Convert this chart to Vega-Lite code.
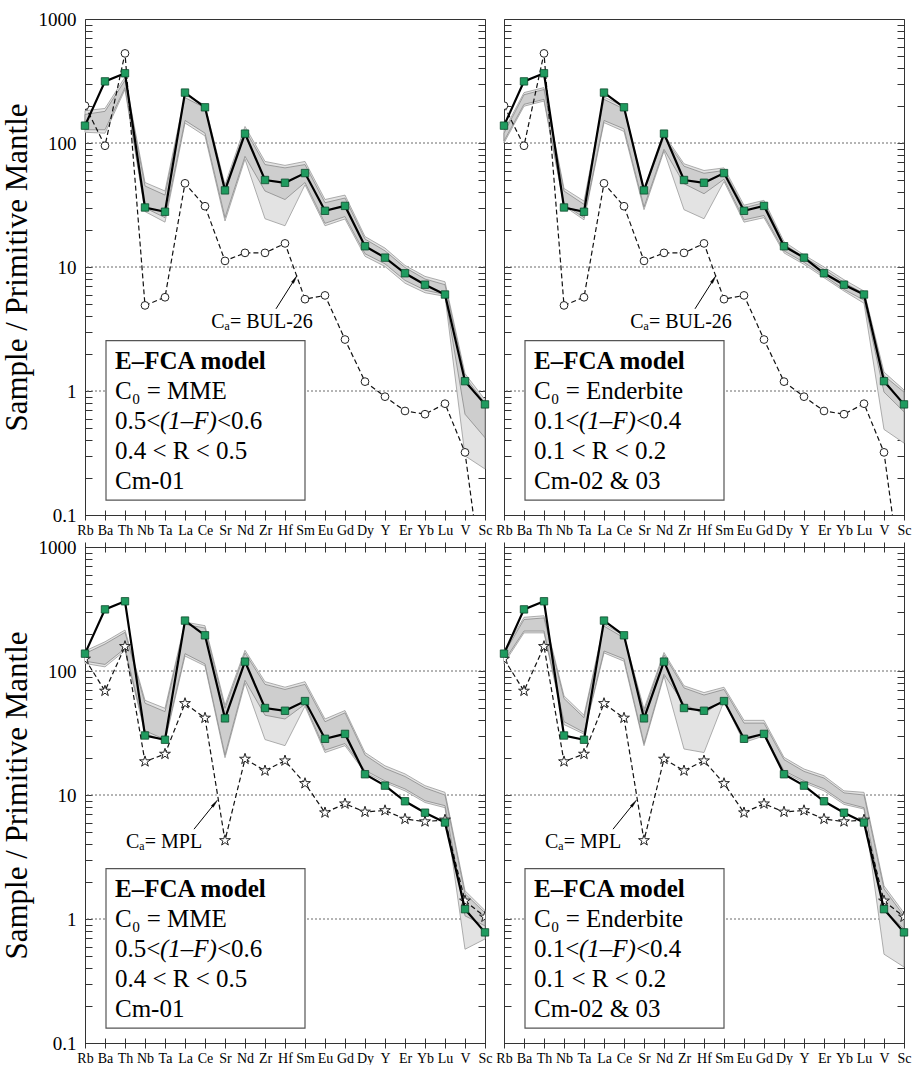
{
  "$schema": "https://vega.github.io/schema/vega-lite/v6.json",
  "padding": {"left": 0, "top": 9, "right": 5, "bottom": 0},
  "config": {
    "view": {"stroke": "#333", "strokeWidth": 1},
    "font": "Liberation Serif",
    "text": {"font": "Liberation Serif", "color": "#000"}
  },
  "datasets": {
    "sample": [
      {"el":"Rb","i":0,"v":138},{"el":"Ba","i":1,"v":314},{"el":"Th","i":2,"v":365},{"el":"Nb","i":3,"v":30.2},
      {"el":"Ta","i":4,"v":27.9},{"el":"La","i":5,"v":255},{"el":"Ce","i":6,"v":194},{"el":"Sr","i":7,"v":41.5},
      {"el":"Nd","i":8,"v":119},{"el":"Zr","i":9,"v":50.3},{"el":"Hf","i":10,"v":47.8},{"el":"Sm","i":11,"v":57.2},
      {"el":"Eu","i":12,"v":28.4},{"el":"Gd","i":13,"v":31.1},{"el":"Dy","i":14,"v":14.7},{"el":"Y","i":15,"v":11.9},
      {"el":"Er","i":16,"v":8.9},{"el":"Yb","i":17,"v":7.2},{"el":"Lu","i":18,"v":6.0},{"el":"V","i":19,"v":1.2},
      {"el":"Sc","i":20,"v":0.78}
    ],
    "bul": [
      {"el":"Rb","i":0,"v":200},{"el":"Ba","i":1,"v":95},{"el":"Th","i":2,"v":528},{"el":"Nb","i":3,"v":4.9},
      {"el":"Ta","i":4,"v":5.7},{"el":"La","i":5,"v":47.3},{"el":"Ce","i":6,"v":30.9},{"el":"Sr","i":7,"v":11.2},
      {"el":"Nd","i":8,"v":13.0},{"el":"Zr","i":9,"v":13.0},{"el":"Hf","i":10,"v":15.5},{"el":"Sm","i":11,"v":5.5},
      {"el":"Eu","i":12,"v":5.9},{"el":"Gd","i":13,"v":2.6},{"el":"Dy","i":14,"v":1.19},{"el":"Y","i":15,"v":0.9},
      {"el":"Er","i":16,"v":0.69},{"el":"Yb","i":17,"v":0.65},{"el":"Lu","i":18,"v":0.79},{"el":"V","i":19,"v":0.32},
      {"el":"Sc","i":20,"v":0.02}
    ],
    "mpl": [
      {"el":"Rb","i":0,"v":125},{"el":"Ba","i":1,"v":69},{"el":"Th","i":2,"v":158},{"el":"Nb","i":3,"v":18.6},
      {"el":"Ta","i":4,"v":21.4},{"el":"La","i":5,"v":54.8},{"el":"Ce","i":6,"v":41.8},{"el":"Sr","i":7,"v":4.3},
      {"el":"Nd","i":8,"v":19.5},{"el":"Zr","i":9,"v":15.7},{"el":"Hf","i":10,"v":18.9},{"el":"Sm","i":11,"v":12.4},
      {"el":"Eu","i":12,"v":7.2},{"el":"Gd","i":13,"v":8.5},{"el":"Dy","i":14,"v":7.3},{"el":"Y","i":15,"v":7.5},
      {"el":"Er","i":16,"v":6.4},{"el":"Yb","i":17,"v":6.1},{"el":"Lu","i":18,"v":6.3},{"el":"V","i":19,"v":1.4},
      {"el":"Sc","i":20,"v":1.04}
    ],
    "bandTL": [
      {"el":"Rb","i":0,"hi":170,"lo":128,"ohi":182,"olo":122},{"el":"Ba","i":1,"hi":180,"lo":128,"ohi":190,"olo":120},
      {"el":"Th","i":2,"hi":320,"lo":280,"ohi":340,"olo":270},{"el":"Nb","i":3,"hi":45,"lo":30,"ohi":48,"olo":28},
      {"el":"Ta","i":4,"hi":38,"lo":25,"ohi":41,"olo":23},{"el":"La","i":5,"hi":232,"lo":152,"ohi":245,"olo":145},
      {"el":"Ce","i":6,"hi":192,"lo":120,"ohi":202,"olo":114},{"el":"Sr","i":7,"hi":43,"lo":25,"ohi":46,"olo":23.5},
      {"el":"Nd","i":8,"hi":128,"lo":78,"ohi":136,"olo":74},{"el":"Zr","i":9,"hi":67,"lo":41,"ohi":71,"olo":24.5},
      {"el":"Hf","i":10,"hi":63,"lo":35,"ohi":66,"olo":21.5},{"el":"Sm","i":11,"hi":67,"lo":48,"ohi":71,"olo":46},
      {"el":"Eu","i":12,"hi":33,"lo":22.5,"ohi":35,"olo":21.5},{"el":"Gd","i":13,"hi":36,"lo":25.5,"ohi":38,"olo":24.4},
      {"el":"Dy","i":14,"hi":16.8,"lo":12.8,"ohi":17.6,"olo":12.2},{"el":"Y","i":15,"hi":13.5,"lo":10.6,"ohi":14.2,"olo":10.1},
      {"el":"Er","i":16,"hi":9.9,"lo":7.8,"ohi":10.3,"olo":7.4},{"el":"Yb","i":17,"hi":8.0,"lo":6.5,"ohi":8.4,"olo":6.2},
      {"el":"Lu","i":18,"hi":7.2,"lo":6.0,"ohi":7.6,"olo":5.8},{"el":"V","i":19,"hi":1.3,"lo":0.65,"ohi":1.38,"olo":0.3},
      {"el":"Sc","i":20,"hi":0.8,"lo":0.42,"ohi":0.85,"olo":0.235}
    ],
    "bandTR": [
      {"el":"Rb","i":0,"hi":120,"lo":104,"ohi":126,"olo":100},{"el":"Ba","i":1,"hi":245,"lo":205,"ohi":255,"olo":198},
      {"el":"Th","i":2,"hi":270,"lo":225,"ohi":280,"olo":218},{"el":"Nb","i":3,"hi":41,"lo":32,"ohi":43,"olo":31},
      {"el":"Ta","i":4,"hi":32,"lo":25,"ohi":34,"olo":24},{"el":"La","i":5,"hi":225,"lo":152,"ohi":235,"olo":146},
      {"el":"Ce","i":6,"hi":188,"lo":130,"ohi":196,"olo":124},{"el":"Sr","i":7,"hi":41,"lo":30.5,"ohi":43,"olo":29},
      {"el":"Nd","i":8,"hi":112,"lo":89,"ohi":117,"olo":86},{"el":"Zr","i":9,"hi":65,"lo":47,"ohi":68,"olo":29},
      {"el":"Hf","i":10,"hi":57,"lo":39,"ohi":60,"olo":24.5},{"el":"Sm","i":11,"hi":60,"lo":51,"ohi":63,"olo":49},
      {"el":"Eu","i":12,"hi":30,"lo":24,"ohi":31.5,"olo":23},{"el":"Gd","i":13,"hi":33,"lo":26,"ohi":34.5,"olo":25},
      {"el":"Dy","i":14,"hi":15.3,"lo":13.5,"ohi":16,"olo":13},{"el":"Y","i":15,"hi":12,"lo":10.9,"ohi":12.5,"olo":10.5},
      {"el":"Er","i":16,"hi":9.6,"lo":8.5,"ohi":10,"olo":8.2},{"el":"Yb","i":17,"hi":7.5,"lo":6.6,"ohi":7.9,"olo":6.4},
      {"el":"Lu","i":18,"hi":6.1,"lo":5.4,"ohi":6.4,"olo":5.1},{"el":"V","i":19,"hi":1.33,"lo":0.98,"ohi":1.42,"olo":0.49},
      {"el":"Sc","i":20,"hi":0.98,"lo":0.68,"ohi":1.02,"olo":0.38}
    ],
    "bandBL": [
      {"el":"Rb","i":0,"hi":138,"lo":120,"ohi":145,"olo":115},{"el":"Ba","i":1,"hi":165,"lo":113,"ohi":172,"olo":108},
      {"el":"Th","i":2,"hi":205,"lo":152,"ohi":214,"olo":146},{"el":"Nb","i":3,"hi":55,"lo":33,"ohi":58,"olo":31.5},
      {"el":"Ta","i":4,"hi":47,"lo":28,"ohi":50,"olo":27},{"el":"La","i":5,"hi":238,"lo":138,"ohi":248,"olo":132},
      {"el":"Ce","i":6,"hi":222,"lo":114,"ohi":232,"olo":110},{"el":"Sr","i":7,"hi":50,"lo":21,"ohi":53,"olo":20},
      {"el":"Nd","i":8,"hi":140,"lo":84,"ohi":147,"olo":80},{"el":"Zr","i":9,"hi":78,"lo":44,"ohi":82,"olo":28},
      {"el":"Hf","i":10,"hi":71,"lo":41,"ohi":74,"olo":25},{"el":"Sm","i":11,"hi":78,"lo":54,"ohi":82,"olo":52},
      {"el":"Eu","i":12,"hi":39,"lo":23,"ohi":41,"olo":22},{"el":"Gd","i":13,"hi":46,"lo":26,"ohi":48,"olo":25},
      {"el":"Dy","i":14,"hi":21,"lo":15.8,"ohi":22,"olo":15.2},{"el":"Y","i":15,"hi":16.4,"lo":13,"ohi":17.2,"olo":12.6},
      {"el":"Er","i":16,"hi":14.1,"lo":11.2,"ohi":14.8,"olo":10.8},{"el":"Yb","i":17,"hi":11.4,"lo":9.0,"ohi":11.9,"olo":8.7},
      {"el":"Lu","i":18,"hi":10.0,"lo":8.2,"ohi":10.5,"olo":7.9},{"el":"V","i":19,"hi":1.6,"lo":1.06,"ohi":1.69,"olo":0.57},
      {"el":"Sc","i":20,"hi":1.12,"lo":0.88,"ohi":1.17,"olo":0.69}
    ],
    "bandBR": [
      {"el":"Rb","i":0,"hi":138,"lo":120,"ohi":145,"olo":115},{"el":"Ba","i":1,"hi":260,"lo":210,"ohi":271,"olo":203},
      {"el":"Th","i":2,"hi":268,"lo":210,"ohi":279,"olo":203},{"el":"Nb","i":3,"hi":60,"lo":39,"ohi":63,"olo":37},
      {"el":"Ta","i":4,"hi":42,"lo":32,"ohi":44,"olo":31},{"el":"La","i":5,"hi":230,"lo":145,"ohi":239,"olo":140},
      {"el":"Ce","i":6,"hi":185,"lo":125,"ohi":193,"olo":120},{"el":"Sr","i":7,"hi":47,"lo":26,"ohi":49.4,"olo":25},
      {"el":"Nd","i":8,"hi":135,"lo":94,"ohi":141,"olo":91},{"el":"Zr","i":9,"hi":73,"lo":54,"ohi":76,"olo":23.5},
      {"el":"Hf","i":10,"hi":64,"lo":45,"ohi":67,"olo":22},{"el":"Sm","i":11,"hi":71,"lo":59,"ohi":74,"olo":57},
      {"el":"Eu","i":12,"hi":38,"lo":27.5,"ohi":40,"olo":26.5},{"el":"Gd","i":13,"hi":38,"lo":31,"ohi":40,"olo":30},
      {"el":"Dy","i":14,"hi":19.3,"lo":15.7,"ohi":20.1,"olo":15.2},{"el":"Y","i":15,"hi":15.5,"lo":13,"ohi":16.2,"olo":12.6},
      {"el":"Er","i":16,"hi":13.7,"lo":11.2,"ohi":14.3,"olo":10.8},{"el":"Yb","i":17,"hi":10.4,"lo":8.7,"ohi":10.8,"olo":8.4},
      {"el":"Lu","i":18,"hi":10.0,"lo":7.9,"ohi":10.5,"olo":7.7},{"el":"V","i":19,"hi":1.75,"lo":1.2,"ohi":1.85,"olo":0.52},
      {"el":"Sc","i":20,"hi":1.06,"lo":0.83,"ohi":1.12,"olo":0.41}
    ],
    "grid": [{"v":1},{"v":10},{"v":100}],
    "box": [{"i":1.05,"i2":11.0,"v":0.132,"v2":2.55}],
    "head": [{"i":1.5,"v":1.746,"t":"E–FCA model"}],
    "lines": [
      {"g":"MME","i":1.5,"v":1.0,"t":"C₀  = MME"},
      {"g":"MME","i":1.5,"v":0.328,"t":"0.4 < R < 0.5"},
      {"g":"MME","i":1.5,"v":0.188,"t":"Cm-01"},
      {"g":"End","i":1.5,"v":1.0,"t":"C₀  = Enderbite"},
      {"g":"End","i":1.5,"v":0.328,"t":"0.1 < R < 0.2"},
      {"g":"End","i":1.5,"v":0.188,"t":"Cm-02 & 03"}
    ],
    "frac": [
      {"g":"MME","i":1.5,"v":0.573,"pre":"0.5<","mid":"(1–F)","post":"<0.6"},
      {"g":"End","i":1.5,"v":0.573,"pre":"0.1<","mid":"(1–F)","post":"<0.4"}
    ],
    "calab": [
      {"g":"T","i":8.85,"v":3.6,"t":"Cₐ= BUL-26"},
      {"g":"B","i":3.95,"v":4.18,"t":"Cₐ= MPL"}
    ],
    "arrow": [
      {"g":"T","i":9.55,"v":4.6,"i2":10.45,"v2":7.8},
      {"g":"B","i":5.45,"v":5.3,"i2":6.45,"v2":8.4}
    ]
  },
  "concat": [
    {
      "width": 400, "height": 496,
      "resolve": {"axis": {"x": "independent", "y": "independent"}},
      "layer": [
        {"data":{"name":"grid"},"mark":{"type":"rule","stroke":"#6b6b6b","strokeDash":[2,2],"strokeWidth":1},
         "encoding":{"y":{"field":"v","type":"quantitative","scale":{"type":"log","domain":[0.1,1000]},
           "axis":{"orient":"right","values":[0.1,0.2,0.3,0.4,0.5,0.6,0.7,0.8,0.9,1,2,3,4,5,6,7,8,9,10,20,30,40,50,60,70,80,90,100,200,300,400,500,600,700,800,900,1000],"labels":false,"domain":false,"grid":false,"title":null,"tickColor":"#333","tickWidth":1,"tickSize":7,"offset":-7,"minExtent":0,"maxExtent":0}}}},
        {"data":{"name":"bandTL"},"mark":{"type":"area","fill":"#e3e3e3","stroke":"#9a9a9a","strokeWidth":0.8},
         "encoding":{
           "x":{"field":"i","type":"quantitative","scale":{"domain":[0,20],"nice":false,"zero":false},
             "axis":{"orient":"bottom","values":[0,1,2,3,4,5,6,7,8,9,10,11,12,13,14,15,16,17,18,19,20],"labelExpr":"['Rb','Ba','Th','Nb','Ta','La','Ce','Sr','Nd','Zr','Hf','Sm','Eu','Gd','Dy','Y','Er','Yb','Lu','V','Sc'][datum.value]","labelFont":"Liberation Serif","labelFontSize":14,"labelColor":"#000","labelPadding":3,"labelFlush":false,"labelOverlap":false,"tickSize":10,"offset":-5,"tickColor":"#333","domain":false,"grid":false,"title":null}},
           "y":{"field":"olo","type":"quantitative","scale":{"type":"log","domain":[0.1,1000]},
             "axis":{"orient":"left","values":[0.1,0.2,0.3,0.4,0.5,0.6,0.7,0.8,0.9,1,2,3,4,5,6,7,8,9,10,20,30,40,50,60,70,80,90,100,200,300,400,500,600,700,800,900,1000],"labelExpr":"datum.value == 1000 ? '1000' : datum.value == 100 ? '100' : datum.value == 10 ? '10' : datum.value == 1 ? '1' : abs(datum.value - 0.1) < 1e-9 ? '0.1' : ''","labelOverlap":false,"labelFont":"Liberation Serif","labelFontSize":19,"labelColor":"#000","labelPadding":9,"domain":false,"grid":false,"tickColor":"#333","tickWidth":1,"tickSize":7,"offset":-7,"title":"Sample / Primitive Mantle","titleFont":"Liberation Serif","titleFontSize":31,"titleFontWeight":"normal","titleColor":"#000","titlePadding":5}},
           "y2":{"field":"ohi"}}},
        {"data":{"name":"bandTL"},"mark":{"type":"area","fill":"#cecece","stroke":"#8a8a8a","strokeWidth":0.8},
         "encoding":{"x":{"field":"i","type":"quantitative","scale":{"domain":[0,20],"nice":false,"zero":false},"axis":null},
           "y":{"field":"lo","type":"quantitative","scale":{"type":"log","domain":[0.1,1000]},"axis":null},"y2":{"field":"hi"}}},
        {"data":{"name":"bul"},"mark":{"type":"line","stroke":"#111","strokeWidth":1.2,"strokeDash":[5,3],"clip":true},
         "encoding":{"x":{"field":"i","type":"quantitative","scale":{"domain":[0,20],"nice":false,"zero":false},"axis":null},
           "y":{"field":"v","type":"quantitative","scale":{"type":"log","domain":[0.1,1000]},"axis":null}}},
        {"data":{"name":"bul"},"mark":{"type":"point","shape":"circle","filled":true,"fill":"white","stroke":"#222","strokeWidth":1,"size":60,"opacity":1,"clip":true},
         "encoding":{"x":{"field":"i","type":"quantitative","scale":{"domain":[0,20],"nice":false,"zero":false},"axis":null},
           "y":{"field":"v","type":"quantitative","scale":{"type":"log","domain":[0.1,1000]},"axis":null}}},
        {"data":{"name":"sample"},"mark":{"type":"line","stroke":"#000","strokeWidth":2.2},
         "encoding":{"x":{"field":"i","type":"quantitative","scale":{"domain":[0,20],"nice":false,"zero":false},"axis":null},
           "y":{"field":"v","type":"quantitative","scale":{"type":"log","domain":[0.1,1000]},"axis":null}}},
        {"data":{"name":"sample"},"mark":{"type":"point","shape":"square","filled":true,"fill":"#1f9b5f","stroke":"#0d4a2c","strokeWidth":0.8,"size":55,"opacity":1},
         "encoding":{"x":{"field":"i","type":"quantitative","scale":{"domain":[0,20],"nice":false,"zero":false},"axis":null},
           "y":{"field":"v","type":"quantitative","scale":{"type":"log","domain":[0.1,1000]},"axis":null}}},
        {"data":{"name":"box"},"mark":{"type":"rect","fill":"white","stroke":"#555","strokeWidth":1.2},
         "encoding":{"x":{"field":"i","type":"quantitative","scale":{"domain":[0,20],"nice":false,"zero":false},"axis":null},"x2":{"field":"i2"},
           "y":{"field":"v","type":"quantitative","scale":{"type":"log","domain":[0.1,1000]},"axis":null},"y2":{"field":"v2"}}},
        {"data":{"name":"head"},"mark":{"type":"text","align":"left","baseline":"middle","font":"Liberation Serif","fontSize":25,"fontWeight":"bold","color":"#000"},
         "encoding":{"x":{"field":"i","type":"quantitative","scale":{"domain":[0,20],"nice":false,"zero":false},"axis":null},
           "y":{"field":"v","type":"quantitative","scale":{"type":"log","domain":[0.1,1000]},"axis":null},"text":{"field":"t"}}},
        {"data":{"name":"lines"},"transform":[{"filter":"datum.g == 'MME'"}],"mark":{"type":"text","align":"left","baseline":"middle","font":"Liberation Serif","fontSize":25,"color":"#000"},
         "encoding":{"x":{"field":"i","type":"quantitative","scale":{"domain":[0,20],"nice":false,"zero":false},"axis":null},
           "y":{"field":"v","type":"quantitative","scale":{"type":"log","domain":[0.1,1000]},"axis":null},"text":{"field":"t"}}},
        {"data":{"name":"frac"},"transform":[{"filter":"datum.g == 'MME'"}],"mark":{"type":"text","align":"left","baseline":"middle","font":"Liberation Serif","fontSize":25,"color":"#000"},
         "encoding":{"x":{"field":"i","type":"quantitative","scale":{"domain":[0,20],"nice":false,"zero":false},"axis":null},
           "y":{"field":"v","type":"quantitative","scale":{"type":"log","domain":[0.1,1000]},"axis":null},"text":{"field":"pre"}}},
        {"data":{"name":"frac"},"transform":[{"filter":"datum.g == 'MME'"}],"mark":{"type":"text","align":"left","baseline":"middle","font":"Liberation Serif","fontSize":25,"fontStyle":"italic","dx":45,"color":"#000"},
         "encoding":{"x":{"field":"i","type":"quantitative","scale":{"domain":[0,20],"nice":false,"zero":false},"axis":null},
           "y":{"field":"v","type":"quantitative","scale":{"type":"log","domain":[0.1,1000]},"axis":null},"text":{"field":"mid"}}},
        {"data":{"name":"frac"},"transform":[{"filter":"datum.g == 'MME'"}],"mark":{"type":"text","align":"left","baseline":"middle","font":"Liberation Serif","fontSize":25,"dx":102,"color":"#000"},
         "encoding":{"x":{"field":"i","type":"quantitative","scale":{"domain":[0,20],"nice":false,"zero":false},"axis":null},
           "y":{"field":"v","type":"quantitative","scale":{"type":"log","domain":[0.1,1000]},"axis":null},"text":{"field":"post"}}},
        {"data":{"name":"calab"},"transform":[{"filter":"datum.g == 'T'"}],"mark":{"type":"text","align":"center","baseline":"middle","font":"Liberation Serif","fontSize":20,"color":"#000"},
         "encoding":{"x":{"field":"i","type":"quantitative","scale":{"domain":[0,20],"nice":false,"zero":false},"axis":null},
           "y":{"field":"v","type":"quantitative","scale":{"type":"log","domain":[0.1,1000]},"axis":null},"text":{"field":"t"}}},
        {"data":{"name":"arrow"},"transform":[{"filter":"datum.g == 'T'"}],"mark":{"type":"rule","stroke":"#000","strokeWidth":1},
         "encoding":{"x":{"field":"i","type":"quantitative","scale":{"domain":[0,20],"nice":false,"zero":false},"axis":null},"x2":{"field":"i2"},
           "y":{"field":"v","type":"quantitative","scale":{"type":"log","domain":[0.1,1000]},"axis":null},"y2":{"field":"v2"}}},
        {"data":{"name":"arrow"},"transform":[{"filter":"datum.g == 'T'"}],"mark":{"type":"point","shape":"wedge","filled":true,"fill":"#000","stroke":"#000","strokeWidth":0.5,"size":90,"angle":32,"opacity":1},
         "encoding":{"x":{"field":"i2","type":"quantitative","scale":{"domain":[0,20],"nice":false,"zero":false},"axis":null},
           "y":{"field":"v2","type":"quantitative","scale":{"type":"log","domain":[0.1,1000]},"axis":null}}}
      ]
    },
    {
      "width": 400, "height": 496,
      "resolve": {"axis": {"x": "independent", "y": "independent"}},
      "layer": [
        {"data":{"name":"grid"},"mark":{"type":"rule","stroke":"#6b6b6b","strokeDash":[2,2],"strokeWidth":1},
         "encoding":{"y":{"field":"v","type":"quantitative","scale":{"type":"log","domain":[0.1,1000]},
           "axis":{"orient":"right","values":[0.1,0.2,0.3,0.4,0.5,0.6,0.7,0.8,0.9,1,2,3,4,5,6,7,8,9,10,20,30,40,50,60,70,80,90,100,200,300,400,500,600,700,800,900,1000],"labels":false,"domain":false,"grid":false,"title":null,"tickColor":"#333","tickWidth":1,"tickSize":7,"offset":-7,"minExtent":0,"maxExtent":0}}}},
        {"data":{"name":"bandTR"},"mark":{"type":"area","fill":"#e3e3e3","stroke":"#9a9a9a","strokeWidth":0.8},
         "encoding":{
           "x":{"field":"i","type":"quantitative","scale":{"domain":[0,20],"nice":false,"zero":false},
             "axis":{"orient":"bottom","values":[0,1,2,3,4,5,6,7,8,9,10,11,12,13,14,15,16,17,18,19,20],"labelExpr":"['Rb','Ba','Th','Nb','Ta','La','Ce','Sr','Nd','Zr','Hf','Sm','Eu','Gd','Dy','Y','Er','Yb','Lu','V','Sc'][datum.value]","labelFont":"Liberation Serif","labelFontSize":14,"labelColor":"#000","labelPadding":3,"labelFlush":false,"labelOverlap":false,"tickSize":10,"offset":-5,"tickColor":"#333","domain":false,"grid":false,"title":null}},
           "y":{"field":"olo","type":"quantitative","scale":{"type":"log","domain":[0.1,1000]},
             "axis":{"orient":"left","values":[0.1,0.2,0.3,0.4,0.5,0.6,0.7,0.8,0.9,1,2,3,4,5,6,7,8,9,10,20,30,40,50,60,70,80,90,100,200,300,400,500,600,700,800,900,1000],"labels":false,"domain":false,"grid":false,"tickColor":"#333","tickWidth":1,"tickSize":7,"offset":-7,"minExtent":0,"maxExtent":0,"title":null}},
           "y2":{"field":"ohi"}}},
        {"data":{"name":"bandTR"},"mark":{"type":"area","fill":"#cecece","stroke":"#8a8a8a","strokeWidth":0.8},
         "encoding":{"x":{"field":"i","type":"quantitative","scale":{"domain":[0,20],"nice":false,"zero":false},"axis":null},
           "y":{"field":"lo","type":"quantitative","scale":{"type":"log","domain":[0.1,1000]},"axis":null},"y2":{"field":"hi"}}},
        {"data":{"name":"bul"},"mark":{"type":"line","stroke":"#111","strokeWidth":1.2,"strokeDash":[5,3],"clip":true},
         "encoding":{"x":{"field":"i","type":"quantitative","scale":{"domain":[0,20],"nice":false,"zero":false},"axis":null},
           "y":{"field":"v","type":"quantitative","scale":{"type":"log","domain":[0.1,1000]},"axis":null}}},
        {"data":{"name":"bul"},"mark":{"type":"point","shape":"circle","filled":true,"fill":"white","stroke":"#222","strokeWidth":1,"size":60,"opacity":1,"clip":true},
         "encoding":{"x":{"field":"i","type":"quantitative","scale":{"domain":[0,20],"nice":false,"zero":false},"axis":null},
           "y":{"field":"v","type":"quantitative","scale":{"type":"log","domain":[0.1,1000]},"axis":null}}},
        {"data":{"name":"sample"},"mark":{"type":"line","stroke":"#000","strokeWidth":2.2},
         "encoding":{"x":{"field":"i","type":"quantitative","scale":{"domain":[0,20],"nice":false,"zero":false},"axis":null},
           "y":{"field":"v","type":"quantitative","scale":{"type":"log","domain":[0.1,1000]},"axis":null}}},
        {"data":{"name":"sample"},"mark":{"type":"point","shape":"square","filled":true,"fill":"#1f9b5f","stroke":"#0d4a2c","strokeWidth":0.8,"size":55,"opacity":1},
         "encoding":{"x":{"field":"i","type":"quantitative","scale":{"domain":[0,20],"nice":false,"zero":false},"axis":null},
           "y":{"field":"v","type":"quantitative","scale":{"type":"log","domain":[0.1,1000]},"axis":null}}},
        {"data":{"name":"box"},"mark":{"type":"rect","fill":"white","stroke":"#555","strokeWidth":1.2},
         "encoding":{"x":{"field":"i","type":"quantitative","scale":{"domain":[0,20],"nice":false,"zero":false},"axis":null},"x2":{"field":"i2"},
           "y":{"field":"v","type":"quantitative","scale":{"type":"log","domain":[0.1,1000]},"axis":null},"y2":{"field":"v2"}}},
        {"data":{"name":"head"},"mark":{"type":"text","align":"left","baseline":"middle","font":"Liberation Serif","fontSize":25,"fontWeight":"bold","color":"#000"},
         "encoding":{"x":{"field":"i","type":"quantitative","scale":{"domain":[0,20],"nice":false,"zero":false},"axis":null},
           "y":{"field":"v","type":"quantitative","scale":{"type":"log","domain":[0.1,1000]},"axis":null},"text":{"field":"t"}}},
        {"data":{"name":"lines"},"transform":[{"filter":"datum.g == 'End'"}],"mark":{"type":"text","align":"left","baseline":"middle","font":"Liberation Serif","fontSize":25,"color":"#000"},
         "encoding":{"x":{"field":"i","type":"quantitative","scale":{"domain":[0,20],"nice":false,"zero":false},"axis":null},
           "y":{"field":"v","type":"quantitative","scale":{"type":"log","domain":[0.1,1000]},"axis":null},"text":{"field":"t"}}},
        {"data":{"name":"frac"},"transform":[{"filter":"datum.g == 'End'"}],"mark":{"type":"text","align":"left","baseline":"middle","font":"Liberation Serif","fontSize":25,"color":"#000"},
         "encoding":{"x":{"field":"i","type":"quantitative","scale":{"domain":[0,20],"nice":false,"zero":false},"axis":null},
           "y":{"field":"v","type":"quantitative","scale":{"type":"log","domain":[0.1,1000]},"axis":null},"text":{"field":"pre"}}},
        {"data":{"name":"frac"},"transform":[{"filter":"datum.g == 'End'"}],"mark":{"type":"text","align":"left","baseline":"middle","font":"Liberation Serif","fontSize":25,"fontStyle":"italic","dx":45,"color":"#000"},
         "encoding":{"x":{"field":"i","type":"quantitative","scale":{"domain":[0,20],"nice":false,"zero":false},"axis":null},
           "y":{"field":"v","type":"quantitative","scale":{"type":"log","domain":[0.1,1000]},"axis":null},"text":{"field":"mid"}}},
        {"data":{"name":"frac"},"transform":[{"filter":"datum.g == 'End'"}],"mark":{"type":"text","align":"left","baseline":"middle","font":"Liberation Serif","fontSize":25,"dx":102,"color":"#000"},
         "encoding":{"x":{"field":"i","type":"quantitative","scale":{"domain":[0,20],"nice":false,"zero":false},"axis":null},
           "y":{"field":"v","type":"quantitative","scale":{"type":"log","domain":[0.1,1000]},"axis":null},"text":{"field":"post"}}},
        {"data":{"name":"calab"},"transform":[{"filter":"datum.g == 'T'"}],"mark":{"type":"text","align":"center","baseline":"middle","font":"Liberation Serif","fontSize":20,"color":"#000"},
         "encoding":{"x":{"field":"i","type":"quantitative","scale":{"domain":[0,20],"nice":false,"zero":false},"axis":null},
           "y":{"field":"v","type":"quantitative","scale":{"type":"log","domain":[0.1,1000]},"axis":null},"text":{"field":"t"}}},
        {"data":{"name":"arrow"},"transform":[{"filter":"datum.g == 'T'"}],"mark":{"type":"rule","stroke":"#000","strokeWidth":1},
         "encoding":{"x":{"field":"i","type":"quantitative","scale":{"domain":[0,20],"nice":false,"zero":false},"axis":null},"x2":{"field":"i2"},
           "y":{"field":"v","type":"quantitative","scale":{"type":"log","domain":[0.1,1000]},"axis":null},"y2":{"field":"v2"}}},
        {"data":{"name":"arrow"},"transform":[{"filter":"datum.g == 'T'"}],"mark":{"type":"point","shape":"wedge","filled":true,"fill":"#000","stroke":"#000","strokeWidth":0.5,"size":90,"angle":32,"opacity":1},
         "encoding":{"x":{"field":"i2","type":"quantitative","scale":{"domain":[0,20],"nice":false,"zero":false},"axis":null},
           "y":{"field":"v2","type":"quantitative","scale":{"type":"log","domain":[0.1,1000]},"axis":null}}}
      ]
    },
    {
      "width": 400, "height": 496,
      "resolve": {"axis": {"x": "independent", "y": "independent"}},
      "layer": [
        {"data":{"name":"grid"},"mark":{"type":"rule","stroke":"#6b6b6b","strokeDash":[2,2],"strokeWidth":1},
         "encoding":{"y":{"field":"v","type":"quantitative","scale":{"type":"log","domain":[0.1,1000]},
           "axis":{"orient":"right","values":[0.1,0.2,0.3,0.4,0.5,0.6,0.7,0.8,0.9,1,2,3,4,5,6,7,8,9,10,20,30,40,50,60,70,80,90,100,200,300,400,500,600,700,800,900,1000],"labels":false,"domain":false,"grid":false,"title":null,"tickColor":"#333","tickWidth":1,"tickSize":7,"offset":-7,"minExtent":0,"maxExtent":0}}}},
        {"data":{"name":"bandBL"},"mark":{"type":"area","fill":"#e3e3e3","stroke":"#9a9a9a","strokeWidth":0.8},
         "encoding":{
           "x":{"field":"i","type":"quantitative","scale":{"domain":[0,20],"nice":false,"zero":false},
             "axis":{"orient":"bottom","values":[0,1,2,3,4,5,6,7,8,9,10,11,12,13,14,15,16,17,18,19,20],"labelExpr":"['Rb','Ba','Th','Nb','Ta','La','Ce','Sr','Nd','Zr','Hf','Sm','Eu','Gd','Dy','Y','Er','Yb','Lu','V','Sc'][datum.value]","labelFont":"Liberation Serif","labelFontSize":14,"labelColor":"#000","labelPadding":3,"labelFlush":false,"labelOverlap":false,"tickSize":10,"offset":-5,"tickColor":"#333","domain":false,"grid":false,"title":null}},
           "y":{"field":"olo","type":"quantitative","scale":{"type":"log","domain":[0.1,1000]},
             "axis":{"orient":"left","values":[0.1,0.2,0.3,0.4,0.5,0.6,0.7,0.8,0.9,1,2,3,4,5,6,7,8,9,10,20,30,40,50,60,70,80,90,100,200,300,400,500,600,700,800,900,1000],"labelExpr":"datum.value == 1000 ? '1000' : datum.value == 100 ? '100' : datum.value == 10 ? '10' : datum.value == 1 ? '1' : abs(datum.value - 0.1) < 1e-9 ? '0.1' : ''","labelOverlap":false,"labelFont":"Liberation Serif","labelFontSize":19,"labelColor":"#000","labelPadding":9,"domain":false,"grid":false,"tickColor":"#333","tickWidth":1,"tickSize":7,"offset":-7,"title":"Sample / Primitive Mantle","titleFont":"Liberation Serif","titleFontSize":31,"titleFontWeight":"normal","titleColor":"#000","titlePadding":5}},
           "y2":{"field":"ohi"}}},
        {"data":{"name":"bandBL"},"mark":{"type":"area","fill":"#cecece","stroke":"#8a8a8a","strokeWidth":0.8},
         "encoding":{"x":{"field":"i","type":"quantitative","scale":{"domain":[0,20],"nice":false,"zero":false},"axis":null},
           "y":{"field":"lo","type":"quantitative","scale":{"type":"log","domain":[0.1,1000]},"axis":null},"y2":{"field":"hi"}}},
        {"data":{"name":"mpl"},"mark":{"type":"line","stroke":"#111","strokeWidth":1.2,"strokeDash":[5,3],"clip":true},
         "encoding":{"x":{"field":"i","type":"quantitative","scale":{"domain":[0,20],"nice":false,"zero":false},
             "axis":{"orient":"top","values":[0,1,2,3,4,5,6,7,8,9,10,11,12,13,14,15,16,17,18,19,20],"labels":false,"tickSize":10,"offset":-5,"tickColor":"#333","domain":false,"grid":false,"title":null}},
           "y":{"field":"v","type":"quantitative","scale":{"type":"log","domain":[0.1,1000]},"axis":null}}},
        {"data":{"name":"mpl"},"mark":{"type":"point","shape":"M0,-1L0.2245,-0.309L0.9511,-0.309L0.3633,0.118L0.5878,0.809L0,0.382L-0.5878,0.809L-0.3633,0.118L-0.9511,-0.309L-0.2245,-0.309Z","filled":true,"fill":"white","stroke":"#222","strokeWidth":1,"size":130,"opacity":1,"clip":true},
         "encoding":{"x":{"field":"i","type":"quantitative","scale":{"domain":[0,20],"nice":false,"zero":false},"axis":null},
           "y":{"field":"v","type":"quantitative","scale":{"type":"log","domain":[0.1,1000]},"axis":null}}},
        {"data":{"name":"sample"},"mark":{"type":"line","stroke":"#000","strokeWidth":2.2},
         "encoding":{"x":{"field":"i","type":"quantitative","scale":{"domain":[0,20],"nice":false,"zero":false},"axis":null},
           "y":{"field":"v","type":"quantitative","scale":{"type":"log","domain":[0.1,1000]},"axis":null}}},
        {"data":{"name":"sample"},"mark":{"type":"point","shape":"square","filled":true,"fill":"#1f9b5f","stroke":"#0d4a2c","strokeWidth":0.8,"size":55,"opacity":1},
         "encoding":{"x":{"field":"i","type":"quantitative","scale":{"domain":[0,20],"nice":false,"zero":false},"axis":null},
           "y":{"field":"v","type":"quantitative","scale":{"type":"log","domain":[0.1,1000]},"axis":null}}},
        {"data":{"name":"box"},"mark":{"type":"rect","fill":"white","stroke":"#555","strokeWidth":1.2},
         "encoding":{"x":{"field":"i","type":"quantitative","scale":{"domain":[0,20],"nice":false,"zero":false},"axis":null},"x2":{"field":"i2"},
           "y":{"field":"v","type":"quantitative","scale":{"type":"log","domain":[0.1,1000]},"axis":null},"y2":{"field":"v2"}}},
        {"data":{"name":"head"},"mark":{"type":"text","align":"left","baseline":"middle","font":"Liberation Serif","fontSize":25,"fontWeight":"bold","color":"#000"},
         "encoding":{"x":{"field":"i","type":"quantitative","scale":{"domain":[0,20],"nice":false,"zero":false},"axis":null},
           "y":{"field":"v","type":"quantitative","scale":{"type":"log","domain":[0.1,1000]},"axis":null},"text":{"field":"t"}}},
        {"data":{"name":"lines"},"transform":[{"filter":"datum.g == 'MME'"}],"mark":{"type":"text","align":"left","baseline":"middle","font":"Liberation Serif","fontSize":25,"color":"#000"},
         "encoding":{"x":{"field":"i","type":"quantitative","scale":{"domain":[0,20],"nice":false,"zero":false},"axis":null},
           "y":{"field":"v","type":"quantitative","scale":{"type":"log","domain":[0.1,1000]},"axis":null},"text":{"field":"t"}}},
        {"data":{"name":"frac"},"transform":[{"filter":"datum.g == 'MME'"}],"mark":{"type":"text","align":"left","baseline":"middle","font":"Liberation Serif","fontSize":25,"color":"#000"},
         "encoding":{"x":{"field":"i","type":"quantitative","scale":{"domain":[0,20],"nice":false,"zero":false},"axis":null},
           "y":{"field":"v","type":"quantitative","scale":{"type":"log","domain":[0.1,1000]},"axis":null},"text":{"field":"pre"}}},
        {"data":{"name":"frac"},"transform":[{"filter":"datum.g == 'MME'"}],"mark":{"type":"text","align":"left","baseline":"middle","font":"Liberation Serif","fontSize":25,"fontStyle":"italic","dx":45,"color":"#000"},
         "encoding":{"x":{"field":"i","type":"quantitative","scale":{"domain":[0,20],"nice":false,"zero":false},"axis":null},
           "y":{"field":"v","type":"quantitative","scale":{"type":"log","domain":[0.1,1000]},"axis":null},"text":{"field":"mid"}}},
        {"data":{"name":"frac"},"transform":[{"filter":"datum.g == 'MME'"}],"mark":{"type":"text","align":"left","baseline":"middle","font":"Liberation Serif","fontSize":25,"dx":102,"color":"#000"},
         "encoding":{"x":{"field":"i","type":"quantitative","scale":{"domain":[0,20],"nice":false,"zero":false},"axis":null},
           "y":{"field":"v","type":"quantitative","scale":{"type":"log","domain":[0.1,1000]},"axis":null},"text":{"field":"post"}}},
        {"data":{"name":"calab"},"transform":[{"filter":"datum.g == 'B'"}],"mark":{"type":"text","align":"center","baseline":"middle","font":"Liberation Serif","fontSize":20,"color":"#000"},
         "encoding":{"x":{"field":"i","type":"quantitative","scale":{"domain":[0,20],"nice":false,"zero":false},"axis":null},
           "y":{"field":"v","type":"quantitative","scale":{"type":"log","domain":[0.1,1000]},"axis":null},"text":{"field":"t"}}},
        {"data":{"name":"arrow"},"transform":[{"filter":"datum.g == 'B'"}],"mark":{"type":"rule","stroke":"#000","strokeWidth":1},
         "encoding":{"x":{"field":"i","type":"quantitative","scale":{"domain":[0,20],"nice":false,"zero":false},"axis":null},"x2":{"field":"i2"},
           "y":{"field":"v","type":"quantitative","scale":{"type":"log","domain":[0.1,1000]},"axis":null},"y2":{"field":"v2"}}},
        {"data":{"name":"arrow"},"transform":[{"filter":"datum.g == 'B'"}],"mark":{"type":"point","shape":"wedge","filled":true,"fill":"#000","stroke":"#000","strokeWidth":0.5,"size":90,"angle":39,"opacity":1},
         "encoding":{"x":{"field":"i2","type":"quantitative","scale":{"domain":[0,20],"nice":false,"zero":false},"axis":null},
           "y":{"field":"v2","type":"quantitative","scale":{"type":"log","domain":[0.1,1000]},"axis":null}}}
      ]
    },
    {
      "width": 400, "height": 496,
      "resolve": {"axis": {"x": "independent", "y": "independent"}},
      "layer": [
        {"data":{"name":"grid"},"mark":{"type":"rule","stroke":"#6b6b6b","strokeDash":[2,2],"strokeWidth":1},
         "encoding":{"y":{"field":"v","type":"quantitative","scale":{"type":"log","domain":[0.1,1000]},
           "axis":{"orient":"right","values":[0.1,0.2,0.3,0.4,0.5,0.6,0.7,0.8,0.9,1,2,3,4,5,6,7,8,9,10,20,30,40,50,60,70,80,90,100,200,300,400,500,600,700,800,900,1000],"labels":false,"domain":false,"grid":false,"title":null,"tickColor":"#333","tickWidth":1,"tickSize":7,"offset":-7,"minExtent":0,"maxExtent":0}}}},
        {"data":{"name":"bandBR"},"mark":{"type":"area","fill":"#e3e3e3","stroke":"#9a9a9a","strokeWidth":0.8},
         "encoding":{
           "x":{"field":"i","type":"quantitative","scale":{"domain":[0,20],"nice":false,"zero":false},
             "axis":{"orient":"bottom","values":[0,1,2,3,4,5,6,7,8,9,10,11,12,13,14,15,16,17,18,19,20],"labelExpr":"['Rb','Ba','Th','Nb','Ta','La','Ce','Sr','Nd','Zr','Hf','Sm','Eu','Gd','Dy','Y','Er','Yb','Lu','V','Sc'][datum.value]","labelFont":"Liberation Serif","labelFontSize":14,"labelColor":"#000","labelPadding":3,"labelFlush":false,"labelOverlap":false,"tickSize":10,"offset":-5,"tickColor":"#333","domain":false,"grid":false,"title":null}},
           "y":{"field":"olo","type":"quantitative","scale":{"type":"log","domain":[0.1,1000]},
             "axis":{"orient":"left","values":[0.1,0.2,0.3,0.4,0.5,0.6,0.7,0.8,0.9,1,2,3,4,5,6,7,8,9,10,20,30,40,50,60,70,80,90,100,200,300,400,500,600,700,800,900,1000],"labels":false,"domain":false,"grid":false,"tickColor":"#333","tickWidth":1,"tickSize":7,"offset":-7,"minExtent":0,"maxExtent":0,"title":null}},
           "y2":{"field":"ohi"}}},
        {"data":{"name":"bandBR"},"mark":{"type":"area","fill":"#cecece","stroke":"#8a8a8a","strokeWidth":0.8},
         "encoding":{"x":{"field":"i","type":"quantitative","scale":{"domain":[0,20],"nice":false,"zero":false},"axis":null},
           "y":{"field":"lo","type":"quantitative","scale":{"type":"log","domain":[0.1,1000]},"axis":null},"y2":{"field":"hi"}}},
        {"data":{"name":"mpl"},"mark":{"type":"line","stroke":"#111","strokeWidth":1.2,"strokeDash":[5,3],"clip":true},
         "encoding":{"x":{"field":"i","type":"quantitative","scale":{"domain":[0,20],"nice":false,"zero":false},
             "axis":{"orient":"top","values":[0,1,2,3,4,5,6,7,8,9,10,11,12,13,14,15,16,17,18,19,20],"labels":false,"tickSize":10,"offset":-5,"tickColor":"#333","domain":false,"grid":false,"title":null}},
           "y":{"field":"v","type":"quantitative","scale":{"type":"log","domain":[0.1,1000]},"axis":null}}},
        {"data":{"name":"mpl"},"mark":{"type":"point","shape":"M0,-1L0.2245,-0.309L0.9511,-0.309L0.3633,0.118L0.5878,0.809L0,0.382L-0.5878,0.809L-0.3633,0.118L-0.9511,-0.309L-0.2245,-0.309Z","filled":true,"fill":"white","stroke":"#222","strokeWidth":1,"size":130,"opacity":1,"clip":true},
         "encoding":{"x":{"field":"i","type":"quantitative","scale":{"domain":[0,20],"nice":false,"zero":false},"axis":null},
           "y":{"field":"v","type":"quantitative","scale":{"type":"log","domain":[0.1,1000]},"axis":null}}},
        {"data":{"name":"sample"},"mark":{"type":"line","stroke":"#000","strokeWidth":2.2},
         "encoding":{"x":{"field":"i","type":"quantitative","scale":{"domain":[0,20],"nice":false,"zero":false},"axis":null},
           "y":{"field":"v","type":"quantitative","scale":{"type":"log","domain":[0.1,1000]},"axis":null}}},
        {"data":{"name":"sample"},"mark":{"type":"point","shape":"square","filled":true,"fill":"#1f9b5f","stroke":"#0d4a2c","strokeWidth":0.8,"size":55,"opacity":1},
         "encoding":{"x":{"field":"i","type":"quantitative","scale":{"domain":[0,20],"nice":false,"zero":false},"axis":null},
           "y":{"field":"v","type":"quantitative","scale":{"type":"log","domain":[0.1,1000]},"axis":null}}},
        {"data":{"name":"box"},"mark":{"type":"rect","fill":"white","stroke":"#555","strokeWidth":1.2},
         "encoding":{"x":{"field":"i","type":"quantitative","scale":{"domain":[0,20],"nice":false,"zero":false},"axis":null},"x2":{"field":"i2"},
           "y":{"field":"v","type":"quantitative","scale":{"type":"log","domain":[0.1,1000]},"axis":null},"y2":{"field":"v2"}}},
        {"data":{"name":"head"},"mark":{"type":"text","align":"left","baseline":"middle","font":"Liberation Serif","fontSize":25,"fontWeight":"bold","color":"#000"},
         "encoding":{"x":{"field":"i","type":"quantitative","scale":{"domain":[0,20],"nice":false,"zero":false},"axis":null},
           "y":{"field":"v","type":"quantitative","scale":{"type":"log","domain":[0.1,1000]},"axis":null},"text":{"field":"t"}}},
        {"data":{"name":"lines"},"transform":[{"filter":"datum.g == 'End'"}],"mark":{"type":"text","align":"left","baseline":"middle","font":"Liberation Serif","fontSize":25,"color":"#000"},
         "encoding":{"x":{"field":"i","type":"quantitative","scale":{"domain":[0,20],"nice":false,"zero":false},"axis":null},
           "y":{"field":"v","type":"quantitative","scale":{"type":"log","domain":[0.1,1000]},"axis":null},"text":{"field":"t"}}},
        {"data":{"name":"frac"},"transform":[{"filter":"datum.g == 'End'"}],"mark":{"type":"text","align":"left","baseline":"middle","font":"Liberation Serif","fontSize":25,"color":"#000"},
         "encoding":{"x":{"field":"i","type":"quantitative","scale":{"domain":[0,20],"nice":false,"zero":false},"axis":null},
           "y":{"field":"v","type":"quantitative","scale":{"type":"log","domain":[0.1,1000]},"axis":null},"text":{"field":"pre"}}},
        {"data":{"name":"frac"},"transform":[{"filter":"datum.g == 'End'"}],"mark":{"type":"text","align":"left","baseline":"middle","font":"Liberation Serif","fontSize":25,"fontStyle":"italic","dx":45,"color":"#000"},
         "encoding":{"x":{"field":"i","type":"quantitative","scale":{"domain":[0,20],"nice":false,"zero":false},"axis":null},
           "y":{"field":"v","type":"quantitative","scale":{"type":"log","domain":[0.1,1000]},"axis":null},"text":{"field":"mid"}}},
        {"data":{"name":"frac"},"transform":[{"filter":"datum.g == 'End'"}],"mark":{"type":"text","align":"left","baseline":"middle","font":"Liberation Serif","fontSize":25,"dx":102,"color":"#000"},
         "encoding":{"x":{"field":"i","type":"quantitative","scale":{"domain":[0,20],"nice":false,"zero":false},"axis":null},
           "y":{"field":"v","type":"quantitative","scale":{"type":"log","domain":[0.1,1000]},"axis":null},"text":{"field":"post"}}},
        {"data":{"name":"calab"},"transform":[{"filter":"datum.g == 'B'"}],"mark":{"type":"text","align":"center","baseline":"middle","font":"Liberation Serif","fontSize":20,"color":"#000"},
         "encoding":{"x":{"field":"i","type":"quantitative","scale":{"domain":[0,20],"nice":false,"zero":false},"axis":null},
           "y":{"field":"v","type":"quantitative","scale":{"type":"log","domain":[0.1,1000]},"axis":null},"text":{"field":"t"}}},
        {"data":{"name":"arrow"},"transform":[{"filter":"datum.g == 'B'"}],"mark":{"type":"rule","stroke":"#000","strokeWidth":1},
         "encoding":{"x":{"field":"i","type":"quantitative","scale":{"domain":[0,20],"nice":false,"zero":false},"axis":null},"x2":{"field":"i2"},
           "y":{"field":"v","type":"quantitative","scale":{"type":"log","domain":[0.1,1000]},"axis":null},"y2":{"field":"v2"}}},
        {"data":{"name":"arrow"},"transform":[{"filter":"datum.g == 'B'"}],"mark":{"type":"point","shape":"wedge","filled":true,"fill":"#000","stroke":"#000","strokeWidth":0.5,"size":90,"angle":39,"opacity":1},
         "encoding":{"x":{"field":"i2","type":"quantitative","scale":{"domain":[0,20],"nice":false,"zero":false},"axis":null},
           "y":{"field":"v2","type":"quantitative","scale":{"type":"log","domain":[0.1,1000]},"axis":null}}}
      ]
    }
  ],
  "columns": 2,
  "spacing": {"row": 32, "column": 19},
  "bounds": "flush"
}
